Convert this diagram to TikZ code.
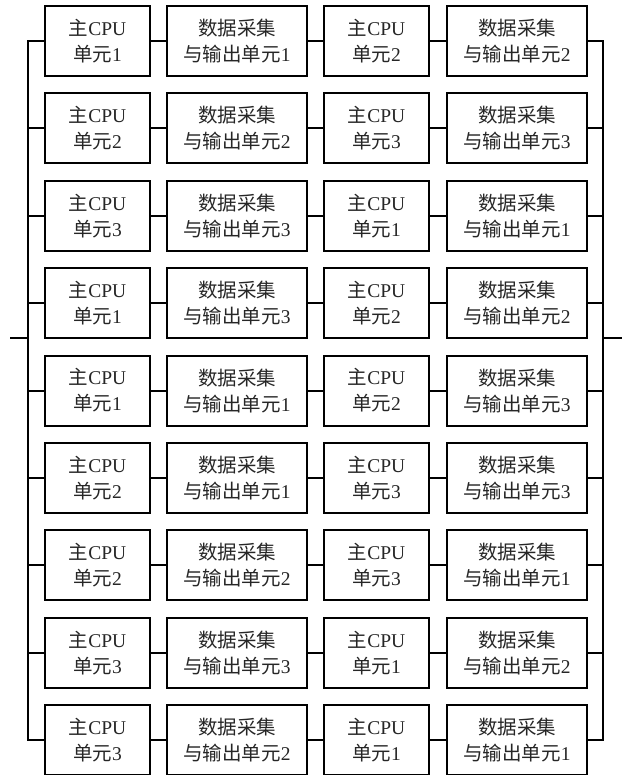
\documentclass[tikz,border=0pt]{standalone}
\usepackage{fontspec}
\setmainfont{Liberation Serif}
\newfontfamily\cjk{Noto Sans CJK SC}
\newcommand\zh[1]{{\cjk #1}}
\tikzset{
  box/.style={draw, line width=2pt, minimum height=70pt, align=center, inner sep=0pt,
    font=\fontsize{19.5}{26}\selectfont, text=black!85},
  cpu/.style={box, minimum width=105pt},
  daq/.style={box, minimum width=140pt},
  wire/.style={line width=2pt}
}
\begin{document}
\begin{tikzpicture}[x=1pt,y=-1pt]
\useasboundingbox (0,0) rectangle (622,775);
\foreach \r/\a/\b/\c/\d in {1/1/1/2/2, 2/2/2/3/3, 3/3/3/1/1, 4/1/3/2/2, 5/1/1/2/3, 6/2/1/3/3, 7/2/2/3/1, 8/3/3/1/2, 9/3/2/1/1} {
  \pgfmathsetmacro\yy{41+(\r-1)*87.4}
  \node[cpu] (a\r) at (97.5,\yy) {\zh{主}CPU\\\zh{单元}\a};
  \node[daq] (b\r) at (237,\yy) {\zh{数据采集}\\\zh{与输出单元}\b};
  \node[cpu] (c\r) at (376.5,\yy) {\zh{主}CPU\\\zh{单元}\c};
  \node[daq] (d\r) at (517,\yy) {\zh{数据采集}\\\zh{与输出单元}\d};
  \draw[wire] (a\r) -- (b\r);
  \draw[wire] (b\r) -- (c\r);
  \draw[wire] (c\r) -- (d\r);
}
\coordinate (lb) at (28,338);
\coordinate (rb) at (603,338);
\coordinate (inL) at (10,338);
\coordinate (outR) at (622,338);
\draw[wire] (a1.west) -| (lb) |- (a9.west);
\draw[wire] (d1.east) -| (rb) |- (d9.east);
\foreach \r in {2,...,8} {
  \draw[wire] (a\r.west) -- (a\r.west -| lb);
  \draw[wire] (d\r.east) -- (d\r.east -| rb);
}
\draw[wire] (inL) -- (lb);
\draw[wire] (rb) -- (outR);
\end{tikzpicture}
\end{document}
